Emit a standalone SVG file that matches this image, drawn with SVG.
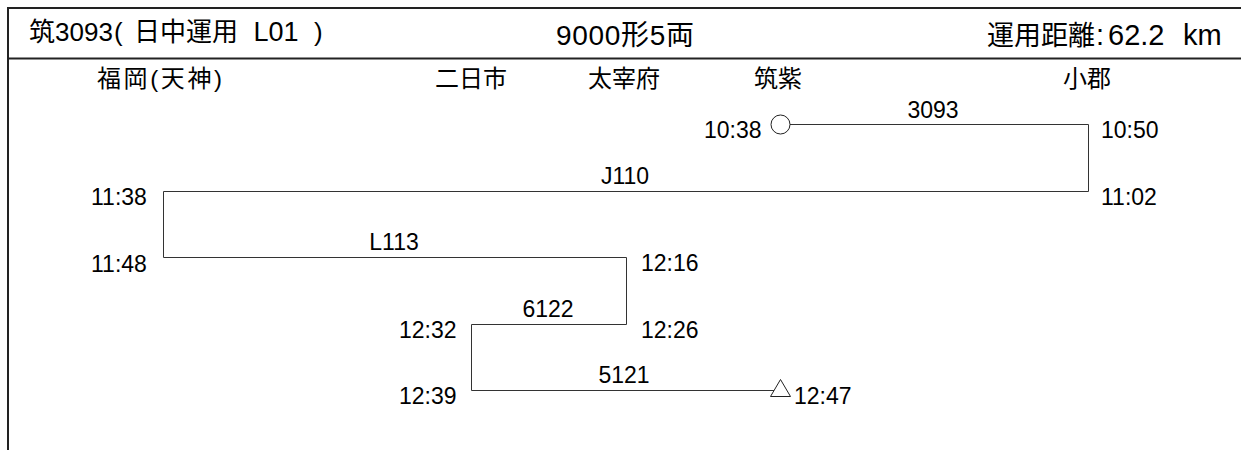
<svg xmlns="http://www.w3.org/2000/svg" width="1241" height="450" viewBox="0 0 1241 450">
<style>
text{font-family:"Liberation Sans","Noto Sans CJK JP",sans-serif;fill:#000}
.frame{stroke:#222;stroke-width:2;fill:none}
.route{stroke:#333;stroke-width:1;fill:none}
.mark{stroke:#222;stroke-width:1;fill:#fff}
.st{font-size:24px;text-anchor:middle}
.tm{font-size:23px}
.tr{font-size:23px;text-anchor:middle}
</style>
<rect width="1241" height="450" fill="#fff"/>
<g id="frame">
<path class="frame" d="M8 450V8H1241M8 58.5H1241"/>
</g>
<g id="header">
<text y="41" font-size="26"><tspan x="29">筑3093</tspan><tspan x="114">(</tspan><tspan x="134">日中運用</tspan><tspan x="246" font-size="27"> L01</tspan><tspan x="314">)</tspan></text>
<text x="556" y="45" font-size="28" textLength="138" lengthAdjust="spacing">9000形5両</text>
<text y="45" font-size="29"><tspan x="987" font-size="27">運用距離</tspan><tspan x="1096">:</tspan><tspan x="1108">62.2</tspan><tspan x="1164"> </tspan><tspan x="1183">km</tspan></text>
</g>
<g id="stations">
<text class="st" x="159.5" y="87" textLength="125" lengthAdjust="spacing">福岡(天神)</text>
<text class="st" x="471" y="87">二日市</text>
<text class="st" x="624" y="87">太宰府</text>
<text class="st" x="778" y="87">筑紫</text>
<text class="st" x="1087" y="87">小郡</text>
</g>
<g id="connectors">
<path class="route" d="M790 124.5H1088.5V191.5H163.5V257.5H626.5V324.5H471.5V390.5H774"/>
</g>
<g id="start-marker">
<circle class="mark" cx="780.5" cy="124.5" r="9.5"/>
</g>
<g id="end-marker">
<polygon class="mark" points="770.5,396.5 790.5,396.5 780.5,379.5"/>
</g>
<g id="train-numbers">
<text class="tr" x="933" y="118">3093</text>
<text class="tr" x="625" y="184">J110</text>
<text class="tr" x="394" y="250">L113</text>
<text class="tr" x="548" y="317">6122</text>
<text class="tr" x="624" y="383">5121</text>
</g>
<g id="times">
<text class="tm" x="704" y="138">10:38</text>
<text class="tm" x="1101" y="138">10:50</text>
<text class="tm" x="1101" y="205">11:02</text>
<text class="tm" x="91" y="205">11:38</text>
<text class="tm" x="91" y="272">11:48</text>
<text class="tm" x="641" y="271">12:16</text>
<text class="tm" x="641" y="338">12:26</text>
<text class="tm" x="399" y="338">12:32</text>
<text class="tm" x="399" y="404">12:39</text>
<text class="tm" x="794" y="404">12:47</text>
</g>
</svg>
